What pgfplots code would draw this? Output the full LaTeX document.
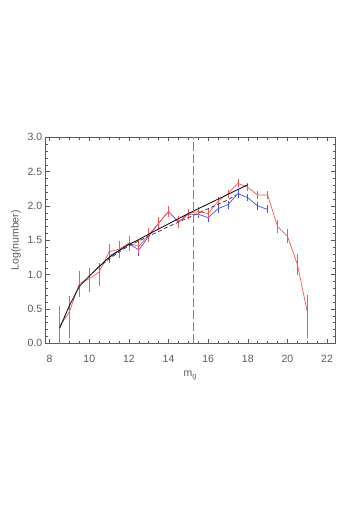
\documentclass[border=0pt]{standalone}
\usepackage{fontspec}
\setmainfont{Liberation Sans}
\usepackage{pgfplots}
\pgfplotsset{compat=1.18}
\definecolor{idlred}{RGB}{250,85,85}
\definecolor{idlblue}{RGB}{70,80,240}
\definecolor{limblue}{RGB}{40,150,225}
\definecolor{axgray}{RGB}{90,90,90}

\begin{document}
\begin{tikzpicture}
\useasboundingbox (0,0) rectangle (364pt,515pt);
\begin{axis}[
  at={(45.7pt,171.7pt)}, anchor=south west,
  scale only axis, width=289.3pt, height=206pt,
  xmin=7.8, xmax=22.4, ymin=0, ymax=3,
  xtick={8,10,...,22}, minor x tick num=3,
  ytick={0,0.5,...,3}, minor y tick num=4,
  tick align=inside, major tick length=4pt, minor tick length=2.5pt,
  axis line style={axgray}, tick style={axgray, line width=0.5pt},
  /pgf/number format/assume math mode=true,
  ticklabel style={font=\fontsize{10.5}{12}\selectfont, text=axgray},
  xticklabel style={yshift=-8pt},
  yticklabel style={/pgf/number format/.cd, fixed, fixed zerofill, precision=1},
  xlabel={m\textsubscript{g}}, ylabel={Log(number)},
  xlabel style={yshift=-2pt},
  label style={font=\fontsize{10.5}{12}\selectfont, text=axgray},
]
% blue sample
\addplot[color=idlblue, line width=0.7pt,
  error bars/.cd, y dir=both, y explicit,
  error bar style={color=idlblue, line width=0.8pt},
  error mark options={color=idlblue, mark size=2pt, line width=0.8pt}]
coordinates {
(11,1.27) +- (0,0.07)
(11.5,1.35) +- (0,0.08)
(12,1.45) +- (0,0.07)
(12.5,1.36) +- (0,0.06)
(13,1.56) +- (0,0.05)
(13.5,1.75) +- (0,0.05)
(14,1.92) +- (0,0.04)
(14.5,1.76) +- (0,0.04)
(15,1.88) +- (0,0.03)
(15.5,1.88) +- (0,0.03)
(16,1.83) +- (0,0.03)
(16.5,1.96) +- (0,0.03)
(17,2.02) +- (0,0.03)
(17.5,2.18) +- (0,0.03)
(18,2.12) +- (0,0.02)
(18.5,2.00) +- (0,0.03)
(19,1.95) +- (0,0.03)
};
% red sample
\addplot[color=idlred, line width=0.7pt,
  error bars/.cd, y dir=both, y explicit,
  error bar style={color=idlred, line width=0.8pt},
  error mark options={color=idlred, mark size=2pt, line width=0.8pt}]
coordinates {
(8.5,0.24) += (0,0.28) -= (0,0.30)
(9,0.46) += (0,0.20) -= (0,0.36)
(9.5,0.87) += (0,0.16) -= (0,0.17)
(10,0.94) += (0,0.13) -= (0,0.16)
(10.5,1.04) += (0,0.10) -= (0,0.17)
(11,1.33) += (0,0.09) -= (0,0.07)
(11.5,1.37) += (0,0.09) -= (0,0.10)
(12,1.46) += (0,0.08) -= (0,0.09)
(12.5,1.41) += (0,0.06) -= (0,0.07)
(13,1.58) += (0,0.07) -= (0,0.08)
(13.5,1.75) += (0,0.06) -= (0,0.07)
(14,1.92) += (0,0.05) -= (0,0.05)
(14.5,1.77) += (0,0.05) -= (0,0.06)
(15,1.89) += (0,0.04) -= (0,0.05)
(15.5,1.92) += (0,0.04) -= (0,0.04)
(16,1.89) += (0,0.04) -= (0,0.04)
(16.5,2.07) += (0,0.03) -= (0,0.03)
(17,2.18) += (0,0.03) -= (0,0.03)
(17.5,2.33) += (0,0.03) -= (0,0.03)
(18,2.27) += (0,0.03) -= (0,0.03)
(18.5,2.16) += (0,0.03) -= (0,0.03)
(19,2.16) += (0,0.03) -= (0,0.03)
(19.5,1.70) += (0,0.06) -= (0,0.06)
(20,1.56) += (0,0.07) -= (0,0.07)
(20.5,1.15) += (0,0.12) -= (0,0.12)
(21,0.46) += (0,0.21) -= (0,0.36)
};
% fits
\addplot[color=black, line width=0.8pt] coordinates {
(8.5,0.22)(9,0.55)(9.5,0.83)(10,0.98)(10.5,1.12)(11,1.25)(11.5,1.35)
(12,1.44)(12.5,1.51)(13,1.59)(14,1.74)(15,1.89)(16,2.03)(17,2.17)(18,2.31)
};
\addplot[color=black!75, line width=0.8pt, dash pattern=on 4pt off 2.5pt] coordinates {
(8.5,0.22)(9,0.55)(9.5,0.83)(10,0.98)(10.5,1.11)(11,1.23)(11.5,1.33)
(12,1.42)(12.5,1.49)(13,1.56)(14,1.70)(15,1.83)(16,1.96)(17,2.09)(17.4,2.16)
};
% limit
\addplot[color=limblue, line width=1.1pt, dash pattern=on 9pt off 3pt] coordinates {(15.27,0)(15.27,3)};
\end{axis}
\end{tikzpicture}
\end{document}
